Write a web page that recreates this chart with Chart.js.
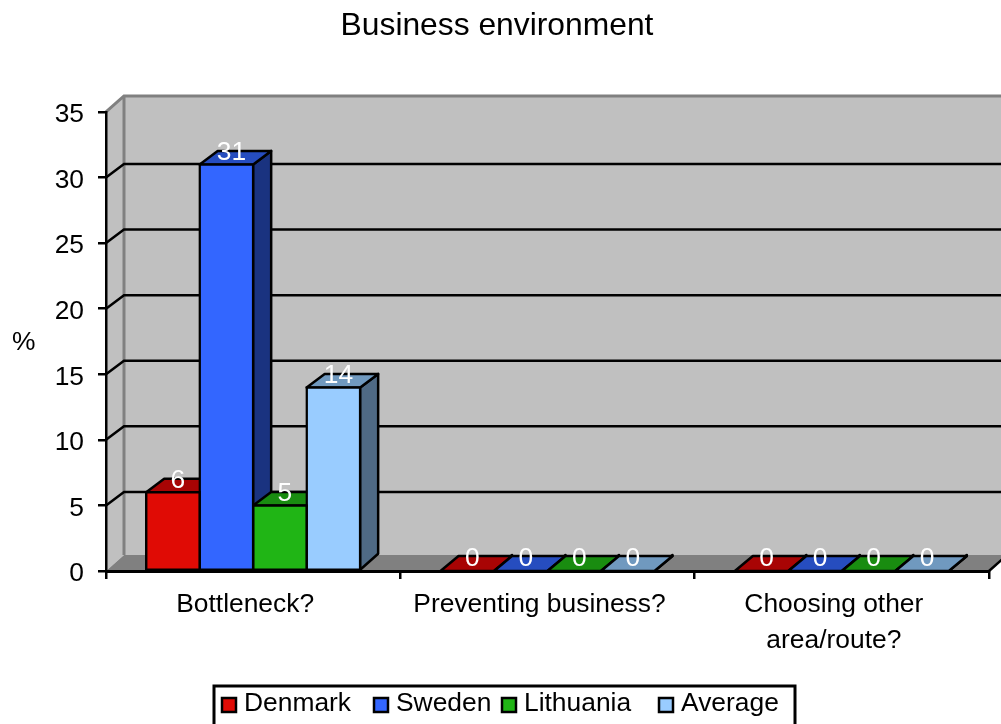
<!DOCTYPE html>
<html>
<head>
<meta charset="utf-8">
<style>
    body { margin: 0; background: #fff; }
    #wrap { position: relative; width: 1001px; height: 724px; }
</style>
<script src="https://cdn.jsdelivr.net/npm/chart.js@4"></script>
</head>
<body>
<div id="wrap"><canvas id="businessChart"></canvas></div>
<script>
const categories = ["Bottleneck?", "Preventing business?", ["Choosing other", "area/route?"]];
const seriesNames = ["Denmark", "Sweden", "Lithuania", "Average"];
const denmark = [6, 0, 0];
const sweden = [31, 0, 0];
const lithuania = [5, 0, 0];
const average = [14, 0, 0];
const yTicks = [0, 5, 10, 15, 20, 25, 30, 35];

const fronts = ["#e00b05", "#3366ff", "#20b515", "#99ccff"];
const tops = ["#a80404", "#264dbf", "#198c10", "#7099bf"];
const sides = ["#700303", "#1a3380", "#105a0a", "#4f6a85"];

const FONT = "'Liberation Sans', Arial, sans-serif";
const TEXT_SIZE = 26.4;
const depthX = 18;
const depthY = 16; // walls and floor
const gridDepthY = 13.5; // grid lines and bar tops sit a bit lower in the reference
const edge = 2.5;

// walls, floor and the back grid lines, the front axes are drawn by chart.js
const wallsPlugin = {
    id: "walls",
    beforeDraw(chart) {
        const { ctx, chartArea, scales } = chart;
        const { left, right, top, bottom } = chartArea;
        ctx.save();
        ctx.fillStyle = "#c0c0c0";
        ctx.fillRect(left + depthX, top - depthY, right - left, bottom - top);
        ctx.beginPath();
        ctx.moveTo(left, top);
        ctx.lineTo(left + depthX, top - depthY);
        ctx.lineTo(left + depthX, bottom - depthY);
        ctx.lineTo(left, bottom);
        ctx.closePath();
        ctx.fill();
        ctx.fillStyle = "#808080";
        ctx.beginPath();
        ctx.moveTo(left, bottom);
        ctx.lineTo(left + depthX, bottom - depthY);
        ctx.lineTo(right + depthX, bottom - depthY);
        ctx.lineTo(right, bottom);
        ctx.closePath();
        ctx.fill();

        ctx.strokeStyle = "#808080";
        ctx.lineWidth = 3;
        ctx.beginPath();
        ctx.moveTo(left, top);
        ctx.lineTo(left + depthX, top - depthY);
        ctx.lineTo(right + depthX, top - depthY);
        ctx.moveTo(left + depthX, top - depthY);
        ctx.lineTo(left + depthX, bottom - depthY);
        ctx.stroke();

        ctx.strokeStyle = "#000";
        ctx.lineWidth = edge;
        yTicks.forEach((v) => {
            if (v === 0 || v === 35) return;
            const y = scales.y.getPixelForValue(v);
            ctx.beginPath();
            ctx.moveTo(left, y);
            ctx.lineTo(left + depthX, y - gridDepthY);
            ctx.lineTo(right + depthX, y - gridDepthY);
            ctx.stroke();
        });
        ctx.beginPath();
        ctx.moveTo(right, bottom);
        ctx.lineTo(right + depthX, bottom - depthY);
        ctx.stroke();
        ctx.restore();
    },
    // tops and sides of the bars, the fronts come from chart.js on top of them
    beforeDatasetsDraw(chart) {
        const { ctx } = chart;
        ctx.save();
        ctx.strokeStyle = "#000";
        ctx.lineWidth = edge;
        ctx.lineJoin = "round";
        chart.data.datasets.forEach((ds, i) => {
            chart.getDatasetMeta(i).data.forEach((bar, j) => {
                const l = bar.x - bar.width / 2;
                const r = bar.x + bar.width / 2;
                const topDepth = ds.data[j] === 0 ? depthY - 1 : gridDepthY;
                ctx.fillStyle = sides[i];
                ctx.beginPath();
                ctx.moveTo(r, bar.y);
                ctx.lineTo(r + depthX, bar.y - topDepth);
                ctx.lineTo(r + depthX, bar.base - depthY);
                ctx.lineTo(r, bar.base);
                ctx.closePath();
                ctx.fill();
                ctx.stroke();
                ctx.fillStyle = tops[i];
                ctx.beginPath();
                ctx.moveTo(l, bar.y);
                ctx.lineTo(l + depthX, bar.y - topDepth);
                ctx.lineTo(r + depthX, bar.y - topDepth);
                ctx.lineTo(r, bar.y);
                ctx.closePath();
                ctx.fill();
                ctx.stroke();
            });
        });
        ctx.restore();
    },
    afterDatasetsDraw(chart) {
        const { ctx } = chart;
        ctx.save();
        ctx.fillStyle = "#fff";
        ctx.font = TEXT_SIZE + "px " + FONT;
        ctx.textAlign = "center";
        ctx.textBaseline = "middle";
        chart.data.datasets.forEach((ds, i) => {
            chart.getDatasetMeta(i).data.forEach((bar, j) => {
                ctx.fillText(ds.data[j], bar.x + 5, bar.y - 12);
            });
        });
        ctx.restore();
    },
    afterDraw(chart) {
        const { ctx } = chart;
        ctx.save();
        ctx.fillStyle = "#000";
        ctx.font = TEXT_SIZE + "px " + FONT;
        ctx.textBaseline = "middle";
        ctx.fillText("%", 12, 343);

        // legend with its frame, the bottom edge falls off the picture
        ctx.strokeStyle = "#000";
        ctx.lineWidth = 3;
        ctx.strokeRect(214, 686, 581, 60);
        const legendX = [222, 374, 502, 659];
        seriesNames.forEach((name, i) => {
            ctx.fillStyle = fronts[i];
            ctx.lineWidth = 2.5;
            ctx.fillRect(legendX[i], 698, 14, 14);
            ctx.strokeRect(legendX[i], 698, 14, 14);
            ctx.fillStyle = "#000";
            ctx.fillText(name, legendX[i] + 22, 704);
        });
        ctx.restore();
    },
};

const seriesValues = [denmark, sweden, lithuania, average];

new Chart(document.getElementById("businessChart"), {
    type: "bar",
    data: {
        labels: categories,
        datasets: seriesNames.map((name, i) => ({
            label: name,
            data: seriesValues[i],
            backgroundColor: fronts[i],
            borderColor: "#000",
            borderWidth: edge,
            borderSkipped: false,
            inflateAmount: edge / 2,
            barPercentage: 1,
            categoryPercentage: 0.727,
        })),
    },
    plugins: [wallsPlugin],
    options: {
        responsive: true,
        maintainAspectRatio: false,
        animation: false,
        layout: { padding: { left: 5, right: 12, top: 0, bottom: 0 } },
        plugins: {
            legend: { display: false },
            tooltip: { enabled: false },
            title: {
                display: true,
                text: "Business environment",
                color: "#000",
                font: { family: FONT, size: 31.8, weight: "normal", lineHeight: 1.2 },
                padding: { top: 7, bottom: 66.8 },
            },
        },
        scales: {
            x: {
                afterFit(scale) { scale.height = 153; },
                grid: { drawOnChartArea: false, color: "#000", lineWidth: 2.5, tickLength: 8 },
                border: { color: "#000", width: 3 },
                ticks: {
                    color: "#000",
                    padding: 8,
                    labelOffset: -8,
                    maxRotation: 0,
                    font: { family: FONT, size: TEXT_SIZE, lineHeight: 1.35 },
                },
            },
            y: {
                min: 0,
                max: 35,
                afterFit(scale) { scale.width = 101; },
                grid: { drawOnChartArea: false, color: "#000", lineWidth: 2.5, tickLength: 8 },
                border: { color: "#000", width: 2.5 },
                ticks: {
                    stepSize: 5,
                    color: "#000",
                    padding: 14,
                    labelOffset: 3,
                    font: { family: FONT, size: TEXT_SIZE },
                },
            },
        },
    },
});
</script>
</body>
</html>
